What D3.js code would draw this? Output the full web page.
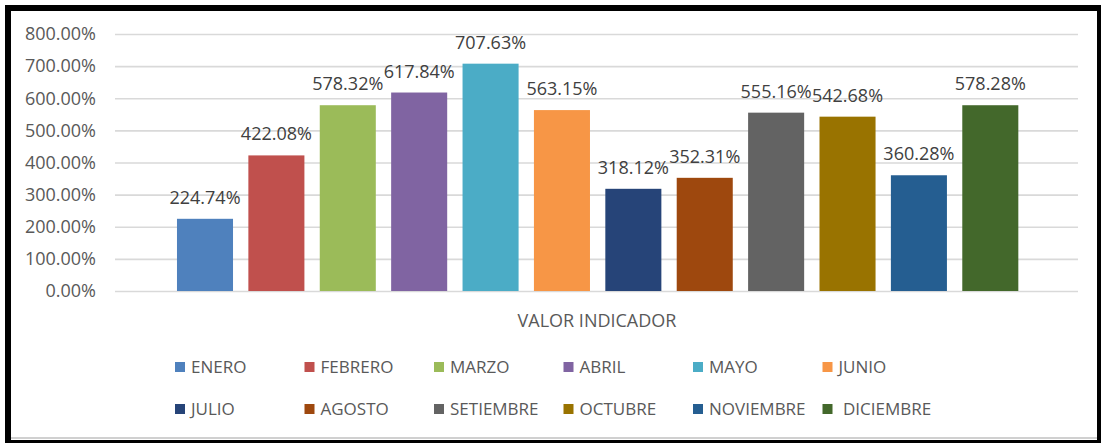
<!DOCTYPE html>
<html>
<head>
<meta charset="utf-8">
<script src="https://cdn.jsdelivr.net/npm/d3@7"></script>
<style>
  html, body { margin: 0; padding: 0; background: #fff; }
  svg text { font-family: "Open Sans", "Noto Sans", sans-serif; }
</style>
</head>
<body>
<svg class="indicator-chart"></svg>
<script>
const months = ['ENERO','FEBRERO','MARZO','ABRIL','MAYO','JUNIO','JULIO','AGOSTO','SETIEMBRE','OCTUBRE','NOVIEMBRE',' DICIEMBRE']
const values = [224.74, 422.08, 578.32, 617.84, 707.63, 563.15, 318.12, 352.31, 555.16, 542.68, 360.28, 578.28]
const colors = ['#4F81BD','#C0504D','#9BBB59','#8064A2','#4BACC6','#F79646','#264478','#9E480E','#636363','#997300','#255E91','#43682B']
const yTicks = [0, 100, 200, 300, 400, 500, 600, 700, 800]
const categoryLabel = 'VALOR INDICADOR'


function chart(svg, width, height){
  svg.attr('width', width).attr('height', height)

  // frame like the excel screenshot
  svg.append('rect').attr('x',0).attr('y',0).attr('width',width).attr('height',height).attr('fill','#fff')
  const frame = svg.append('g').attr('fill','#000')
  frame.append('rect').attr('x',5).attr('y',5).attr('width',1096).attr('height',6)
  frame.append('rect').attr('x',5).attr('y',5).attr('width',6).attr('height',438)
  frame.append('rect').attr('x',1097).attr('y',5).attr('width',4).attr('height',438)
  frame.append('rect').attr('x',5).attr('y',440).attr('width',1096).attr('height',3)
  frame.append('rect').attr('x',11).attr('y',437).attr('width',1086).attr('height',2).attr('fill','#d0d0d0')

  const y = d3.scaleLinear().domain([0, 800]).range([291, 34])
  const x = d3.scaleBand().domain(months).range([169.3, 1026]).paddingInner(0.215).paddingOuter(0.1075)

  // grid + tick labels
  const yAxis = d3.axisLeft(y).tickValues(yTicks).tickSize(-(1078 - 115)).tickPadding(19)
                  .tickFormat(d => d.toFixed(2) + '%')
  const axisG = svg.append('g').attr('transform', 'translate(115,0)').call(yAxis)
  axisG.select('.domain').remove()
  axisG.selectAll('.tick line').attr('stroke','#d9d9d9').attr('stroke-width',1.6)
  axisG.selectAll('.tick text').attr('fill','#595959').attr('font-size','18px')

  // bars
  svg.append('g').selectAll('rect')
     .data(values)
     .join('rect')
     .attr('x', (d,i) => x(months[i]))
     .attr('y', d => y(d))
     .attr('width', x.bandwidth())
     .attr('height', d => y(0) - y(d))
     .attr('fill', (d,i) => colors[i])

  // data labels
  svg.append('g').selectAll('text')
     .data(values)
     .join('text')
     .attr('x', (d,i) => x(months[i]) + x.bandwidth() / 2)
     .attr('y', d => y(d) - 15)
     .attr('text-anchor','middle')
     .attr('font-size','18px')
     .attr('fill','#404040')
     .text(d => d.toFixed(2) + '%')

  svg.append('text')
     .attr('x', 597).attr('y', 327)
     .attr('text-anchor','middle')
     .attr('font-size','18px')
     .attr('fill','#595959')
     .text(categoryLabel)

  // legend, 6 columns x 2 rows
  const legendX = d3.scaleLinear().domain([0, 6]).range([175, 175 + 129.5 * 6])
  const legendY = d3.scaleOrdinal().domain([0, 1]).range([362, 404])
  const items = svg.append('g').selectAll('g')
     .data(months)
     .join('g')
     .attr('transform', (d,i) => `translate(${legendX(i % 6)},${legendY(Math.floor(i / 6))})`)
  items.append('rect').attr('width',10).attr('height',10).attr('fill', (d,i) => colors[i])
  items.append('text')
       .attr('x', 16).attr('y', 11)
       .attr('font-size','17px')
       .attr('fill','#595959')
       .style('white-space','pre')
       .text(d => d)
}

chart(d3.select('svg.indicator-chart'), 1101, 443)
</script>
</body>
</html>
